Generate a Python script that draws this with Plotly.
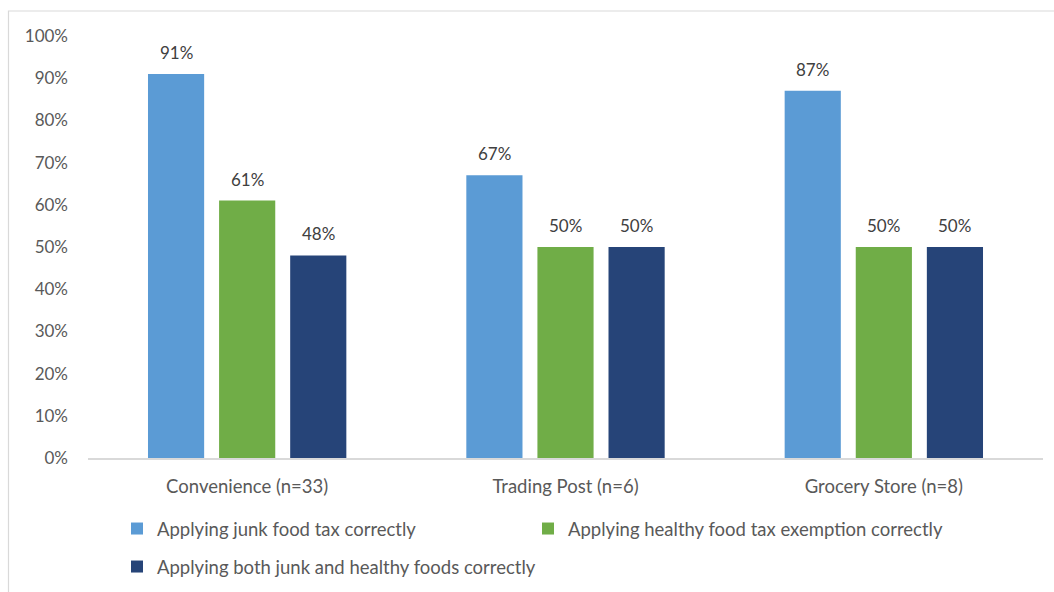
import plotly.graph_objects as go

categories = ["Convenience (n=33)", "Trading Post (n=6)", "Grocery Store (n=8)"]
series_names = [
    "Applying junk food tax correctly",
    "Applying healthy food tax exemption correctly",
    "Applying both junk and healthy foods correctly",
]
junk_values = [91, 67, 87]
healthy_values = [61, 50, 50]
both_values = [48, 50, 50]
y_ticks = [0, 10, 20, 30, 40, 50, 60, 70, 80, 90, 100]

colors = ["#5B9BD5", "#70AD47", "#264478"]
FONT = "Lato"
FS_NUM = 17
FS_TXT = 18.5
W, H = 1054, 592
L, R, T, B = 88, 11, 36, 134
pw = W - L - R
ph = H - T - B

def px_x(px):
    return (px - L) / pw

def px_y(py):
    return (H - B - py) / ph

all_series = [junk_values, healthy_values, both_values]
legends = ["legend", "legend2", "legend3"]

fig = go.Figure()
for name, vals, col, lg in zip(series_names, all_series, colors, legends):
    fig.add_trace(go.Bar(
        x=categories, y=vals, name=name, marker_color=col,
        marker_line_width=0, legend=lg, hoverinfo="skip", showlegend=True,
    ))

bargap = 0.33
n = len(all_series)
slot = (1 - bargap) / n
annotations = []
for si, vals in enumerate(all_series):
    for ci, v in enumerate(vals):
        annotations.append(dict(
            x=ci + (si - (n - 1) / 2) * slot, y=v, xref="x", yref="y",
            text=f"{v}%", showarrow=False, yanchor="bottom", yshift=9,
            font=dict(family=FONT, size=FS_NUM, color="#404040"),
        ))

leg_common = dict(font=dict(family=FONT, size=FS_TXT, color="#595959"),
                  bgcolor="rgba(0,0,0,0)", xanchor="left", yanchor="middle",
                  orientation="h", itemwidth=30, visible=True)

fig.update_layout(
    width=W, height=H,
    margin=dict(l=L, r=R, t=T, b=B, autoexpand=False),
    paper_bgcolor="white", plot_bgcolor="white",
    showlegend=True,
    barmode="group", bargap=bargap, bargroupgap=0.21,
    font=dict(family=FONT, size=FS_TXT, color="#595959"),
    annotations=annotations,
    xaxis=dict(showline=True, linecolor="#d9d9d9", linewidth=1.5,
               showgrid=False, ticks="", ticklabelstandoff=11,
               tickfont=dict(family=FONT, size=FS_TXT, color="#595959")),
    yaxis=dict(range=[0, 100], tickvals=y_ticks,
               ticktext=[f"{t}%" for t in y_ticks], showgrid=False,
               showline=False, zeroline=False, ticks="", ticklabelstandoff=19,
               tickfont=dict(family=FONT, size=FS_NUM, color="#595959")),
    legend=dict(x=px_x(117), y=px_y(529), **leg_common),
    legend2=dict(x=px_x(528), y=px_y(529), **leg_common),
    legend3=dict(x=px_x(117), y=px_y(567), **leg_common),
    shapes=[dict(type="rect", xref="paper", yref="paper",
                 x0=px_x(8.5), x1=px_x(1070), y0=px_y(610), y1=px_y(11),
                 line=dict(color="#d9d9d9", width=1.2), fillcolor="rgba(0,0,0,0)",
                 layer="below")],
)

fig.write_html("out.html", config={"displayModeBar": False},
               post_script="document.body.style.margin='0';")
